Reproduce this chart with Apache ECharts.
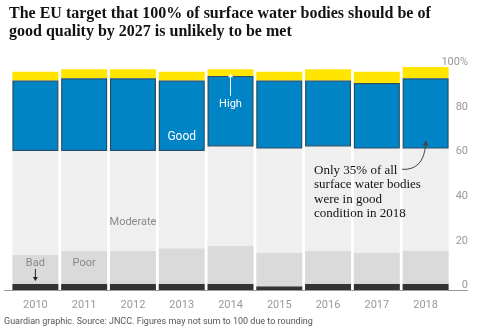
<!DOCTYPE html>
<html>
<head>
<meta charset="utf-8">
<script src="https://cdn.jsdelivr.net/npm/echarts@6/dist/echarts.min.js"></script>
<style>
html,body{margin:0;padding:0;background:#fff;}
#c{width:482px;height:330px;}
</style>
</head>
<body>
<div id="c"></div>
<script>
var years = ['2010','2011','2012','2013','2014','2015','2016','2017','2018'];
var bad = [2.8, 2.8, 2.8, 2.8, 2.8, 1.7, 2.8, 2.8, 2.8];
var poor = [12.9, 14.8, 14.8, 15.9, 16.9, 15.0, 14.7, 13.8, 14.9];
var moderate = [46.6, 44.7, 44.7, 43.6, 44.7, 46.7, 46.9, 46.8, 45.7];
var good = [31.6, 32.6, 32.6, 31.6, 31.6, 30.5, 29.5, 29.4, 31.5];
var high = [4.0, 4.1, 4.1, 4.0, 3.0, 4.0, 5.1, 5.1, 5.1];
var yTicks = [0, 20, 40, 60, 80, 100];

var titleText = 'The EU target that 100% of surface water bodies should be of\ngood quality by 2027 is unlikely to be met';
var footText = 'Guardian graphic. Source: JNCC. Figures may not sum to 100 due to rounding';
var noteText = 'Only 35% of all\nsurface water bodies\nwere in good\ncondition in 2018';

var SANS = 'Roboto, "Liberation Sans", sans-serif';
var chart = echarts.init(document.getElementById('c'), null, {renderer:'canvas'});

function mk(name, data, color, extra) {
  var s = {
    name: name, type: 'bar', stack: 'all', data: data, barWidth: 46,
    itemStyle: {color: color}, silent: true, animation: false
  };
  if (extra) for (var k in extra) s[k] = extra[k];
  return s;
}

chart.setOption({
  animation: false,
  title: {
    text: titleText, left: 4, top: 0,
    textStyle: {fontFamily: '"Liberation Serif", serif', fontWeight: 'bold', fontSize: 16, color: '#121212', lineHeight: 18}
  },
  grid: {left: 11, right: 32, top: 67, bottom: 40},
  xAxis: {
    type: 'category', data: years,
    axisLine: {show: false}, axisTick: {show: false},
    axisLabel: {color: '#999', fontSize: 11, fontFamily: SANS, margin: 10}
  },
  yAxis: {
    type: 'value', position: 'right', min: 0, max: 100, interval: 20,
    splitLine: {show: false}, axisLine: {show: false}, axisTick: {show: false},
    axisLabel: {
      color: '#999', fontSize: 11, fontFamily: SANS, align: 'right', margin: 18,
      verticalAlign: 'bottom', padding: [0, 0, -1, 0],
      formatter: function (v) { return yTicks.indexOf(v) >= 0 ? (v === 100 ? '100%' : String(v)) : ''; }
    }
  },
  series: [
    mk('Bad', bad, '#333333'),
    mk('Poor', poor, '#dadada'),
    mk('Moderate', moderate, '#efefef'),
    mk('Good', good, '#0084c6', {itemStyle: {color: '#0084c6', borderColor: '#264f66', borderWidth: 1.2}, z: 3}),
    mk('High', high, '#ffe500')
  ]
});

function px(cat, val) { return chart.convertToPixel({xAxisIndex: 0, yAxisIndex: 0}, [cat, val]); }
function cum(i, n) { var arrs = [bad, poor, moderate, good, high], s = 0; for (var k = 0; k < n; k++) s += arrs[k][i]; return s; }

var g = [];
var base = px(years[0], 0);
g.push({type: 'line', shape: {x1: 4, y1: base[1] + 0.5, x2: 468, y2: base[1] + 0.5}, style: {stroke: '#999', lineWidth: 1}});

// Good label in 2013
var pGood = px('2013', 68.6);
g.push({type: 'text', x: pGood[0], y: pGood[1], style: {text: 'Good', fill: '#fff', font: '12px ' + SANS, align: 'center', verticalAlign: 'middle'}});
// High label in 2014 with arrow
var pHigh = px('2014', 83.5);
g.push({type: 'text', x: pHigh[0], y: pHigh[1], style: {text: 'High', fill: '#fff', font: '11px ' + SANS, align: 'center', verticalAlign: 'middle'}});
var aTop = px('2014', cum(4, 4) + 1.2);
g.push({type: 'line', shape: {x1: aTop[0], y1: pHigh[1] - 8, x2: aTop[0], y2: aTop[1] + 3}, style: {stroke: '#fff', lineWidth: 1}});
g.push({type: 'polygon', shape: {points: [[aTop[0], aTop[1]], [aTop[0] - 2.5, aTop[1] + 4], [aTop[0] + 2.5, aTop[1] + 4]]}, style: {fill: '#fff'}});
// Moderate label in 2012
var pMod = px('2012', 30.5);
g.push({type: 'text', x: pMod[0], y: pMod[1], style: {text: 'Moderate', fill: '#888', font: '11px ' + SANS, align: 'center', verticalAlign: 'middle'}});
// Poor label in 2011
var pPoor = px('2011', 12);
g.push({type: 'text', x: pPoor[0], y: pPoor[1], style: {text: 'Poor', fill: '#888', font: '11px ' + SANS, align: 'center', verticalAlign: 'middle'}});
// Bad label in 2010 with arrow down
var pBad = px('2010', 12.1);
g.push({type: 'text', x: pBad[0], y: pBad[1], style: {text: 'Bad', fill: '#888', font: '11px ' + SANS, align: 'center', verticalAlign: 'middle'}});
var bTip = px('2010', bad[0] + 1.2);
g.push({type: 'line', shape: {x1: bTip[0], y1: pBad[1] + 6, x2: bTip[0], y2: bTip[1] - 3}, style: {stroke: '#222', lineWidth: 1}});
g.push({type: 'polygon', shape: {points: [[bTip[0], bTip[1]], [bTip[0] - 2.5, bTip[1] - 4], [bTip[0] + 2.5, bTip[1] - 4]]}, style: {fill: '#222'}});

// Note text
var pNote = px('2016', 55);
g.push({type: 'text', x: pNote[0] - 14, y: pNote[1] - 4, style: {text: noteText, fill: '#121212', font: '13px "Liberation Serif", serif', lineHeight: 14.3, align: 'left', verticalAlign: 'top'}});
// curved arrow to 2018 good
var tip = px('2018', cum(8, 3) + 3.6);
var st = [pNote[0] + 74, pNote[1] + 2];
g.push({type: 'bezierCurve', shape: {x1: st[0], y1: st[1], x2: tip[0], y2: tip[1] + 4, cpx1: tip[0] - 2, cpy1: st[1] + 1}, style: {stroke: '#444', lineWidth: 1, fill: null}});
g.push({type: 'polygon', shape: {points: [[tip[0], tip[1]], [tip[0] - 2.8, tip[1] + 5], [tip[0] + 2.8, tip[1] + 5]]}, style: {fill: '#444'}});

// footer
g.push({type: 'text', left: 4, top: 317, style: {text: footText, fill: '#555', font: '9px ' + SANS}});

g.forEach(function (e) { e.z = 100; e.silent = true; });
chart.setOption({graphic: {elements: g}});
</script>
</body>
</html>
